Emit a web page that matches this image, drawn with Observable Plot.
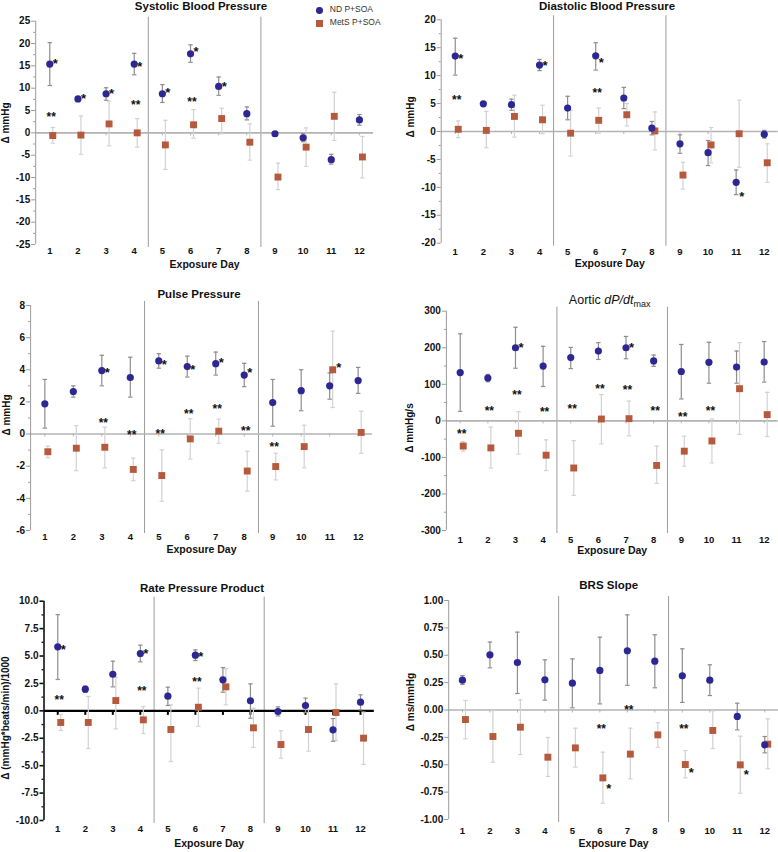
<!DOCTYPE html>
<html><head><meta charset="utf-8">
<script src="https://cdn.jsdelivr.net/npm/d3@7"></script>
<script src="https://cdn.jsdelivr.net/npm/@observablehq/plot@0.6"></script>
<style>
body{margin:0;background:#fff;font-family:"Liberation Sans",Arial,sans-serif;}
#root{position:relative;width:778px;height:852px;overflow:hidden;background:#fff}
.panel{position:absolute}
.title{position:absolute;font-weight:bold;font-size:11.5px;transform:translate(-50%,-50%);white-space:nowrap;color:#111;line-height:1}
.title.light{font-weight:normal;font-size:12.5px}
.title sub{font-size:9px;vertical-align:-3px}
.ylab{position:absolute;font-weight:bold;font-size:10px;color:#111;white-space:nowrap;line-height:1;transform:translate(-50%,-50%) rotate(-90deg)}
.leg{position:absolute;font-size:8.5px;color:#333;white-space:nowrap;line-height:1}
</style>
</head><body>
<div id="root"></div>
<script>
// ---------- data ----------
const days = [1,2,3,4,5,6,7,8,9,10,11,12];
const seriesNames = ["ND P+SOA", "MetS P+SOA"];
const xLabel = "Exposure Day";

// Systolic Blood Pressure
const sbpTitle = "Systolic Blood Pressure";
const sbpYLabel = "Δ mmHg";
const sbpND   = [15.4, 7.6, 8.75, 15.4, 8.75, 17.7, 10.4, 4.3, -0.2, -1.1, -6.0, 2.9];
const sbpNDLo = [10.6, 7.3, 7.3, 13.0, 6.8, 15.8, 8.4, 2.9, -0.8, -2.0, -7.0, 1.7];
const sbpNDHi = [20.2, 7.9, 10.1, 17.8, 10.8, 19.7, 12.5, 5.8, 0.3, -0.2, -4.8, 4.1];
const sbpMS   = [-0.6, -0.5, 2.0, 0.0, -2.7, 1.8, 3.2, -2.1, -9.9, -3.2, 3.7, -5.4];
const sbpMSLo = [-2.3, -4.8, -2.9, -3.2, -8.2, -1.2, -0.2, -6.1, -12.7, -7.5, -1.7, -10.1];
const sbpMSHi = [1.2, 3.8, 7.1, 3.2, 2.8, 5.2, 5.5, 2.0, -6.8, 1.1, 9.1, -0.8];
const sbpStarND = [{day:1,y:16.2},{day:2,y:8.4},{day:3,y:9.5},{day:4,y:15.6},{day:5,y:9.7},{day:6,y:19.0},{day:7,y:11.1}];
const sbpStarMS = [];
const sbpStar2 = [{day:1,y:4.3},{day:4,y:6.9},{day:6,y:7.6}];
const sbpTicks = [-25,-20,-15,-10,-5,0,5,10,15,20,25];
const sbpMinor = [-22.5,-17.5,-12.5,-7.5,-2.5,2.5,7.5,12.5,17.5,22.5];

// Diastolic Blood Pressure
const dbpTitle = "Diastolic Blood Pressure";
const dbpYLabel = "Δ mmHg";
const dbpND   = [13.5, 4.95, 4.8, 11.9, 4.2, 13.55, 6.0, 0.6, -2.2, -3.8, -9.1, -0.5];
const dbpNDLo = [10.1, 4.7, 3.8, 10.9, 2.1, 11.0, 4.1, -0.6, -3.9, -6.1, -11.3, -1.2];
const dbpNDHi = [16.7, 5.2, 5.8, 12.9, 6.3, 15.9, 7.9, 1.8, -0.6, -1.6, -6.9, 0.2];
const dbpMS   = [0.4, 0.2, 2.7, 2.1, -0.3, 2.0, 3.0, 0.1, -7.8, -2.4, -0.4, -5.6];
const dbpMSLo = [-1.1, -2.9, -1.0, -0.4, -4.4, -0.3, 1.0, -3.3, -10.3, -5.6, -6.4, -9.1];
const dbpMSHi = [1.9, 3.6, 6.5, 4.7, 3.8, 4.2, 5.0, 3.5, -5.5, 0.7, 5.6, -2.2];
const dbpStarND = [{day:1,y:13.6},{day:4,y:12.4},{day:6,y:13.0},{day:11,y:-11.0}];
const dbpStarMS = [];
const dbpStar2 = [{day:1,y:6.3},{day:6,y:7.5}];
const dbpTicks = [-20,-15,-10,-5,0,5,10,15,20];
const dbpMinor = [-17.5,-12.5,-7.5,-2.5,2.5,7.5,12.5,17.5];

// Pulse Pressure
const ppTitle = "Pulse Pressure";
const ppYLabel = "Δ mmHg";
const ppND   = [1.88, 2.65, 3.95, 3.52, 4.55, 4.2, 4.38, 3.67, 1.96, 2.7, 3.0, 3.33];
const ppNDLo = [0.37, 2.3, 3.0, 2.3, 4.1, 3.55, 3.67, 2.95, 0.49, 1.45, 2.17, 2.53];
const ppNDHi = [3.4, 3.0, 4.9, 4.78, 5.0, 4.85, 5.1, 4.4, 3.4, 4.0, 3.8, 4.15];
const ppMS   = [-1.1, -0.88, -0.82, -2.2, -2.58, -0.3, 0.18, -2.3, -2.02, -0.78, 4.0, 0.1];
const ppMSLo = [-1.47, -2.28, -2.1, -2.9, -4.18, -1.55, -0.57, -3.55, -2.85, -2.1, 1.65, -1.2];
const ppMSHi = [-0.75, 0.53, 0.43, -1.5, -0.98, 0.95, 0.93, -1.07, -1.19, 0.55, 6.4, 1.42];
const ppStarND = [{day:3,y:4.0},{day:5,y:4.5},{day:6,y:4.2},{day:7,y:4.64},{day:8,y:4.0}];
const ppStarMS = [{day:11,y:4.31}];
const ppStar2 = [{day:3,y:0.89},{day:4,y:0.12},{day:5,y:0.22},{day:6,y:1.47},{day:7,y:1.78},{day:8,y:0.37},{day:9,y:-0.61}];
const ppTicks = [-6,-4,-2,0,2,4,6,8];
const ppMinor = [-5,-3,-1,1,3,5,7];

// Aortic dP/dt max
const dpTitle = "Aortic <i>dP/dt</i><sub>max</sub>";
const dpYLabel = "Δ mmHg/s";
const dpND   = [132, 117, 200, 150, 173, 191, 200, 164, 135, 160, 147, 161];
const dpNDLo = [26, 107, 144, 94, 143, 168, 170, 149, 60, 103, 103, 106];
const dpNDHi = [238, 127, 256, 204, 201, 214, 231, 180, 209, 215, 191, 217];
const dpMS   = [-69, -74, -34, -94, -129, 5, 6, -122, -83, -55, 88, 17];
const dpMSLo = [-83, -129, -91, -136, -204, -63, -41, -171, -124, -115, -37, -43];
const dpMSHi = [-57, -17, 25, -52, -54, 72, 54, -69, -42, 5, 214, 78];
const dpStarND = [{day:3,y:208},{day:7,y:208}];
const dpStarMS = [];
const dpStar2 = [{day:1,y:-28},{day:2,y:37},{day:3,y:81},{day:4,y:33},{day:5,y:42},{day:6,y:97},{day:7,y:94},{day:8,y:35},{day:9,y:21},{day:10,y:35}];
const dpTicks = [-300,-200,-100,0,100,200,300];
const dpMinor = [-250,-150,-50,50,150,250];

// Rate Pressure Product
const rppTitle = "Rate Pressure Product";
const rppYLabel = "Δ (mmHg*beats/min)/1000";
const rppND   = [5.84, 1.98, 3.34, 5.23, 1.34, 5.08, 2.83, 0.91, -0.06, 0.49, -1.73, 0.79];
const rppNDLo = [2.86, 1.7, 2.19, 4.47, 0.49, 4.59, 1.7, -0.67, -0.46, -0.15, -2.77, 0.09];
const rppNDHi = [8.78, 2.25, 4.53, 5.99, 2.16, 5.56, 3.95, 2.46, 0.36, 1.16, -0.7, 1.46];
const rppMS   = [-1.06, -1.06, 0.94, -0.82, -1.7, 0.33, 2.19, -1.55, -3.07, -1.7, -0.15, -2.49];
const rppMSLo = [-1.79, -3.43, -1.64, -2.07, -4.62, -1.4, 0.55, -3.34, -4.32, -3.68, -2.71, -4.89];
const rppMSHi = [-0.33, 1.31, 3.07, 0.4, 0.55, 2.07, 3.83, 0.24, -1.82, 0.12, 2.46, -0.12];
const rppStarND = [{day:1,y:5.9},{day:4,y:5.5},{day:6,y:5.29}];
const rppStarMS = [];
const rppStar2 = [{day:1,y:1.25},{day:4,y:2.07},{day:6,y:2.92}];
const rppTicks = [-10,-7.5,-5,-2.5,0,2.5,5,7.5,10];
const rppMinor = [-8.75,-6.25,-3.75,-1.25,1.25,3.75,6.25,8.75];

// BRS Slope
const brsTitle = "BRS Slope";
const brsYLabel = "Δ ms/mmHg";
const brsND   = [0.272, 0.504, 0.434, 0.276, 0.245, 0.361, 0.541, 0.446, 0.312, 0.272, -0.059, -0.318];
const brsNDLo = [0.233, 0.385, 0.151, 0.09, 0.02, 0.056, 0.225, 0.203, 0.069, 0.132, -0.181, -0.391];
const brsNDHi = [0.315, 0.62, 0.711, 0.458, 0.467, 0.665, 0.869, 0.687, 0.559, 0.413, 0.062, -0.242];
const brsMS   = [-0.087, -0.242, -0.157, -0.431, -0.346, -0.62, -0.403, -0.227, -0.498, -0.187, -0.501, -0.312];
const brsMSLo = [-0.263, -0.477, -0.407, -0.607, -0.522, -0.851, -0.629, -0.34, -0.62, -0.352, -0.76, -0.537];
const brsMSHi = [0.087, -0.005, 0.093, -0.251, -0.166, -0.385, -0.166, -0.117, -0.37, -0.008, -0.239, -0.081];
const brsStarND = [];
const brsStarMS = [{day:6,y:-0.684},{day:9,y:-0.543},{day:11,y:-0.562}];
const brsStar2 = [{day:6,y:-0.142},{day:7,y:0.035},{day:9,y:-0.142}];
const brsTicks = [-1,-0.75,-0.5,-0.25,0,0.25,0.5,0.75,1];
const brsMinor = [];

const dividers = [4.5, 8.5];

// ---------- drawing ----------
const ND_COLOR = "#2d2794";
const MS_COLOR = "#b65a3d";
const capSym = {draw(ctx, size){ const r = Math.sqrt(size/Math.PI); ctx.moveTo(-r,0); ctx.lineTo(r,0); }};

function makePanel(c) {
  const rows = days.map((d,i)=>({day:d, nd:c.nd[i], ndLo:c.ndLo[i], ndHi:c.ndHi[i], ms:c.ms[i], msLo:c.msLo[i], msHi:c.msHi[i]}));
  const axisColor = c.dark ? "#111" : "#9a9a9a";
  const zeroColor = c.dark ? "#000" : "#b3b3b3";
  const zeroW = c.dark ? 2.2 : 1.6;
  const ND_ERR = "#8e8e8e", MS_ERR = "#d2d2d2";
  const MSDX = 3;
  return Plot.plot({
    width: c.width, height: c.height,
    marginLeft: c.ml, marginRight: c.mr, marginTop: c.mt, marginBottom: c.mb,
    x: {domain: [0.5, 12.5], axis: null},
    y: {domain: c.yDomain, axis: null},
    style: {fontFamily: "'Liberation Sans', Arial, sans-serif", fontWeight: "bold", fontSize: "10px", overflow: "visible", background: "transparent", color: "#111"},
    marks: [
      Plot.ruleX(dividers, {stroke: "#9c9c9c", strokeWidth: 1, insetTop: -4, insetBottom: -3}),
      Plot.ruleY([0], {stroke: zeroColor, strokeWidth: zeroW}),
      Plot.ruleX(days, {x: d => d, y1: 0, y2: 0, insetBottom: c.dark ? -4.5 : -3, stroke: zeroColor, strokeWidth: c.dark ? 2 : 1}),
      Plot.ruleX([0.5], {y1: c.yDomain[0], y2: c.yDomain[1], stroke: axisColor, strokeWidth: c.dark ? 1.6 : 1}),
      Plot.axisY({ticks: c.yTicks, tickSize: 4, tickPadding: 1.5, tickFormat: c.fmt, label: null, stroke: axisColor, strokeWidth: c.dark ? 1.6 : 1, fill: "#111", fontSize: 10}),
      Plot.axisY({ticks: c.yMinor, tickSize: 2, tickFormat: () => "", label: null, stroke: axisColor, strokeWidth: c.dark ? 1.3 : 1}),
      Plot.axisX({ticks: days, tickSize: 0, tickPadding: c.xPad, tickFormat: d => String(d), label: null, fill: "#111", fontSize: 9.5}),
      Plot.text([xLabel], {frameAnchor: "bottom", dy: c.xLabelDy, fontSize: 10.5, fill: "#111"}),
      // MetS error bars
      Plot.ruleX(rows, {x: "day", y1: "msLo", y2: "msHi", stroke: MS_ERR, strokeWidth: 1.2, dx: MSDX}),
      Plot.dot(rows, {x: "day", y: "msLo", symbol: capSym, r: 2.2, stroke: MS_ERR, strokeWidth: 1.2, dx: MSDX}),
      Plot.dot(rows, {x: "day", y: "msHi", symbol: capSym, r: 2.2, stroke: MS_ERR, strokeWidth: 1.2, dx: MSDX}),
      // ND error bars
      Plot.ruleX(rows, {x: "day", y1: "ndLo", y2: "ndHi", stroke: ND_ERR, strokeWidth: 1.2}),
      Plot.dot(rows, {x: "day", y: "ndLo", symbol: capSym, r: 2.2, stroke: ND_ERR, strokeWidth: 1.2}),
      Plot.dot(rows, {x: "day", y: "ndHi", symbol: capSym, r: 2.2, stroke: ND_ERR, strokeWidth: 1.2}),
      // points
      Plot.dot(rows, {x: "day", y: "ms", symbol: "square", r: 3.9, fill: MS_COLOR, dx: MSDX}),
      Plot.dot(rows, {x: "day", y: "nd", r: 3.6, fill: ND_COLOR}),
      // significance marks
      Plot.text(c.starND, {x: "day", y: "y", text: () => "*", dx: 5.5, dy: 3.5, fontSize: 13, fill: "#111"}),
      Plot.text(c.starMS, {x: "day", y: "y", text: () => "*", dx: 9, dy: 3.5, fontSize: 13, fill: "#111"}),
      Plot.text(c.star2, {x: "day", y: "y", text: () => "**", dx: 1.5, dy: 3.5, fontSize: 12, fill: "#111"})
    ]
  });
}

const root = document.getElementById("root");
function place(el, left, top) {
  const d = document.createElement("div");
  d.className = "panel"; d.style.left = left + "px"; d.style.top = top + "px";
  d.appendChild(el); root.appendChild(d);
}
function htmlText(cls, html, x, y) {
  const t = document.createElement("div");
  t.className = cls;
  t.innerHTML = html; t.style.left = x + "px"; t.style.top = y + "px";
  root.appendChild(t);
}

const f0 = d => String(d);
const panels = [
  {left:0, top:0, width:389, height:280, ml:35.2, mr:16, mt:20.7, mb:36, yDomain:[-25,25], yTicks:sbpTicks, yMinor:sbpMinor, fmt:f0,
   nd:sbpND, ndLo:sbpNDLo, ndHi:sbpNDHi, ms:sbpMS, msLo:sbpMSLo, msHi:sbpMSHi, starND:sbpStarND, starMS:sbpStarMS, star2:sbpStar2,
   yLabel:sbpYLabel, lx:5.5, ly:123, xPad:3, xLabelDy:23, title:sbpTitle, tx:201, ty:7},
  {left:389, top:0, width:389, height:280, ml:51.7, mr:0.2, mt:19.3, mb:37.3, yDomain:[-20,20], yTicks:dbpTicks, yMinor:dbpMinor, fmt:f0,
   nd:dbpND, ndLo:dbpNDLo, ndHi:dbpNDHi, ms:dbpMS, msLo:dbpMSLo, msHi:dbpMSHi, starND:dbpStarND, starMS:dbpStarMS, star2:dbpStar2,
   yLabel:dbpYLabel, lx:411.3, ly:117, xPad:5.5, xLabelDy:24, title:dbpTitle, tx:607, ty:7.3},
  {left:0, top:280, width:389, height:285, ml:30.1, mr:17.1, mt:25, mb:35, yDomain:[-6,8], yTicks:ppTicks, yMinor:ppMinor, fmt:f0,
   nd:ppND, ndLo:ppNDLo, ndHi:ppNDHi, ms:ppMS, msLo:ppMSLo, msHi:ppMSHi, starND:ppStarND, starMS:ppStarMS, star2:ppStar2,
   yLabel:ppYLabel, lx:6.7, ly:415, xPad:3, xLabelDy:22, title:ppTitle, tx:199, ty:295},
  {left:389, top:280, width:389, height:285, ml:56.9, mr:0.5, mt:30.7, mb:35, yDomain:[-300,300], yTicks:dpTicks, yMinor:dpMinor, fmt:f0,
   nd:dpND, ndLo:dpNDLo, ndHi:dpNDHi, ms:dpMS, msLo:dpMSLo, msHi:dpMSHi, starND:dpStarND, starMS:dpStarMS, star2:dpStar2,
   yLabel:dpYLabel, lx:409.7, ly:428, xPad:5.5, xLabelDy:23, title:dpTitle, tx:609.7, ty:301, cls:"light"},
  {left:0, top:565, width:389, height:287, ml:43.5, mr:15.2, mt:35.7, mb:32, yDomain:[-10,10], yTicks:rppTicks, yMinor:rppMinor, fmt:d => d.toFixed(1), dark:true,
   nd:rppND, ndLo:rppNDLo, ndHi:rppNDHi, ms:rppMS, msLo:rppMSLo, msHi:rppMSHi, starND:rppStarND, starMS:rppStarMS, star2:rppStar2,
   yLabel:rppYLabel, lx:5.5, ly:718, xPad:5, xLabelDy:26, title:rppTitle, tx:202, ty:589},
  {left:389, top:565, width:389, height:287, ml:59.2, mr:0, mt:35, mb:33, yDomain:[-1,1], yTicks:brsTicks, yMinor:brsMinor, fmt:d => d.toFixed(2),
   nd:brsND, ndLo:brsNDLo, ndHi:brsNDHi, ms:brsMS, msLo:brsMSLo, msHi:brsMSHi, starND:brsStarND, starMS:brsStarMS, star2:brsStar2,
   yLabel:brsYLabel, lx:410.7, ly:702, xPad:7.5, xLabelDy:27, title:brsTitle, tx:608.7, ty:585.7}
];

for (const p of panels) {
  place(makePanel(p), p.left, p.top);
  htmlText("title" + (p.cls ? " " + p.cls : ""), p.title, p.tx, p.ty);
  htmlText("ylab", p.yLabel, p.lx, p.ly);
}

// legend (top-right of the first panel)
function legendItem(sym, label, x, y) {
  const s = document.createElement("div");
  s.style.position = "absolute";
  s.style.left = (x - 3.4) + "px"; s.style.top = (y - 3.4) + "px";
  s.style.width = "6.8px"; s.style.height = "6.8px";
  s.style.background = sym === "circle" ? ND_COLOR : MS_COLOR;
  if (sym === "circle") s.style.borderRadius = "50%";
  root.appendChild(s);
  const t = document.createElement("div");
  t.className = "leg"; t.textContent = label;
  t.style.left = (x + 10.5) + "px"; t.style.top = (y - 5) + "px";
  root.appendChild(t);
}
legendItem("circle", seriesNames[0], 319.3, 10.3);
legendItem("square", seriesNames[1], 319.3, 23.3);
</script>
</body></html>
